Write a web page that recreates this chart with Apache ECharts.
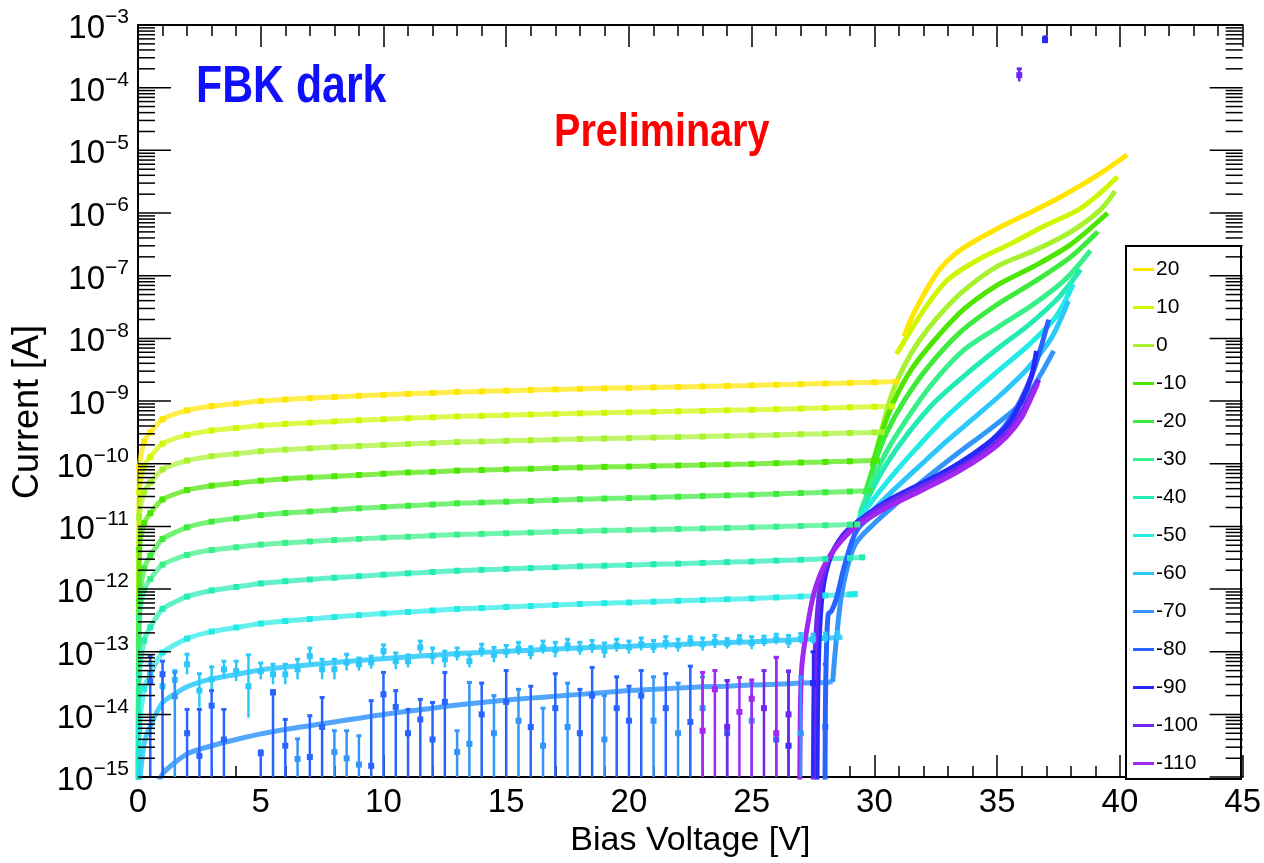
<!DOCTYPE html>
<html><head><meta charset="utf-8">
<script src="https://cdn.jsdelivr.net/npm/echarts@6/dist/echarts.min.js"></script>
<style>html,body{margin:0;padding:0;background:#fff}#c{width:1264px;height:863px}</style>
</head><body><div id="c"></div>
<script>
// ---------- DATA (currents stored as log10 of current in A) ----------
const temps  = ['20','10','0','-10','-20','-30','-40','-50','-60','-70','-80','-90','-100','-110'];
const colors = ['#FFE600','#D2F500','#A6F22E','#4CE600','#3CEB3C','#37F08A','#22EBB4','#22EBE6','#2CC8FA','#3296FA','#2864FF','#2828FA','#6E28F0','#A028F0'];

// bias voltage grid of the plateau fits
const PX = [0.01,0.05,0.25,0.5,1,2,3,4,5,6,7,8,9,10,11,12,13,14,15,16,17,18,19,20,21,22,23,24,25,26,27,28,29,30];
const pl20  = [-16,-10.05,-9.65,-9.50,-9.29,-9.15,-9.08,-9.04,-9.00,-8.975,-8.955,-8.935,-8.917,-8.90,-8.885,-8.87,-8.855,-8.845,-8.835,-8.825,-8.815,-8.805,-8.797,-8.79,-8.782,-8.774,-8.766,-8.758,-8.75,-8.74,-8.73,-8.72,-8.71,-8.70];
const pl10  = [-16,-10.44,-10.04,-9.89,-9.68,-9.54,-9.47,-9.43,-9.39,-9.365,-9.345,-9.325,-9.307,-9.29,-9.275,-9.26,-9.245,-9.235,-9.225,-9.215,-9.205,-9.195,-9.187,-9.18,-9.172,-9.164,-9.156,-9.148,-9.14,-9.13,-9.12,-9.11,-9.10,-9.09];
const pl0   = [-16,-10.85,-10.45,-10.30,-10.09,-9.95,-9.88,-9.84,-9.80,-9.775,-9.755,-9.735,-9.717,-9.70,-9.685,-9.67,-9.655,-9.645,-9.635,-9.625,-9.615,-9.605,-9.597,-9.59,-9.582,-9.574,-9.566,-9.558,-9.55,-9.54,-9.53,-9.52,-9.51,-9.50];
const plm10 = [-16,-11.37,-10.95,-10.79,-10.57,-10.42,-10.35,-10.31,-10.27,-10.24,-10.22,-10.20,-10.18,-10.16,-10.14,-10.13,-10.11,-10.10,-10.09,-10.08,-10.07,-10.06,-10.05,-10.045,-10.036,-10.028,-10.019,-10.011,-10.003,-9.992,-9.982,-9.971,-9.961,-9.95];
const plm20 = [-16,-12.19,-11.67,-11.47,-11.20,-11.015,-10.924,-10.872,-10.82,-10.788,-10.762,-10.736,-10.712,-10.69,-10.671,-10.651,-10.632,-10.619,-10.606,-10.593,-10.58,-10.567,-10.556,-10.547,-10.537,-10.526,-10.516,-10.505,-10.495,-10.482,-10.469,-10.456,-10.443];
const plm30 = [-16,-12.45,-12.01,-11.84,-11.61,-11.455,-11.378,-11.334,-11.29,-11.263,-11.241,-11.219,-11.199,-11.18,-11.164,-11.147,-11.131,-11.12,-11.109,-11.098,-11.087,-11.076,-11.067,-11.059,-11.05,-11.041,-11.033,-11.024,-11.015,-11.004,-10.993,-10.982,-10.971];
const plm40 = [-16,-13.38,-12.82,-12.61,-12.316,-12.12,-12.022,-11.966,-11.91,-11.875,-11.847,-11.819,-11.794,-11.77,-11.749,-11.728,-11.707,-11.693,-11.679,-11.665,-11.651,-11.637,-11.626,-11.616,-11.605,-11.594,-11.582,-11.571,-11.56,-11.546,-11.532,-11.518,-11.504];
const plm50 = [-16,-14.23,-13.59,-13.35,-13.014,-12.79,-12.678,-12.614,-12.55,-12.51,-12.478,-12.446,-12.417,-12.39,-12.366,-12.342,-12.318,-12.302,-12.286,-12.27,-12.254,-12.238,-12.225,-12.214,-12.201,-12.188,-12.176,-12.163,-12.15,-12.134,-12.118,-12.102,-12.086];
const plm60 = [-16,-15.18,-14.46,-14.19,-13.812,-13.56,-13.434,-13.362,-13.29,-13.245,-13.209,-13.173,-13.141,-13.11,-13.083,-13.056,-13.029,-13.011,-12.993,-12.975,-12.957,-12.939,-12.925,-12.912,-12.898,-12.883,-12.869,-12.854,-12.84,-12.822,-12.804,-12.786];
const plm70 = [-17,-16.5,-16.0,-15.5,-14.95,-14.63,-14.5,-14.4,-14.31,-14.24,-14.18,-14.12,-14.06,-14.0,-13.95,-13.9,-13.85,-13.81,-13.77,-13.74,-13.71,-13.68,-13.65,-13.62,-13.6,-13.58,-13.56,-13.55,-13.53,-13.52,-13.5,-13.49];
const plEndX = [30.9,30.7,30.3,30.1,29.8,29.3,29.5,29.2,28.7,28.3];
const plEndY = [-8.69,-9.085,-9.497,-9.95,-10.43,-10.968,-11.494,-12.08,-12.77,-13.48];

// breakdown fits [V, log10 I]
const bd20  = [[31.2,-7.97],[31.6,-7.6],[32.2,-7.17],[32.7,-6.88],[33.5,-6.59],[34.9,-6.27],[36.3,-6.0],[37.6,-5.74],[39.0,-5.42],[40.3,-5.07]];
const bd10  = [[30.9,-8.25],[31.5,-7.86],[32.2,-7.44],[33.0,-7.06],[34.2,-6.75],[35.6,-6.48],[36.9,-6.21],[38.3,-5.95],[39.2,-5.68],[39.9,-5.42]];
const bd0   = [[30.3,-9.45],[30.7,-8.9],[31.2,-8.45],[31.8,-8.05],[32.6,-7.65],[33.6,-7.25],[35.0,-6.85],[36.5,-6.6],[38.0,-6.3],[39.2,-5.95],[39.8,-5.65]];
const bdm10 = [[29.9,-10.05],[30.3,-9.5],[30.8,-9.0],[31.5,-8.5],[32.4,-8.05],[33.6,-7.55],[35.0,-7.15],[36.5,-6.85],[38.0,-6.5],[39.5,-6.0]];
const bdm20 = [[29.6,-10.5],[30.0,-10.0],[30.5,-9.5],[31.2,-9.0],[32.2,-8.45],[33.5,-7.9],[35.0,-7.46],[36.5,-7.1],[38.0,-6.7],[39.1,-6.3]];
const bdm30 = [[29.4,-10.8],[29.9,-10.3],[30.5,-9.8],[31.3,-9.3],[32.3,-8.75],[33.6,-8.2],[35.0,-7.83],[36.5,-7.45],[37.8,-7.05],[38.8,-6.6]];
const bdm40 = [[29.3,-10.95],[29.8,-10.5],[30.5,-10.0],[31.4,-9.5],[32.5,-9.0],[33.8,-8.55],[35.0,-8.17],[36.3,-7.78],[37.5,-7.35],[38.4,-6.9]];
const bdm50 = [[29.2,-11.0],[29.8,-10.65],[30.6,-10.25],[31.6,-9.8],[32.8,-9.3],[34.0,-8.87],[35.1,-8.5],[36.3,-8.1],[37.4,-7.65],[38.1,-7.13]];
const bdm60 = [[29.1,-11.1],[29.8,-10.8],[30.7,-10.45],[31.8,-10.05],[33.0,-9.62],[34.2,-9.22],[35.2,-8.88],[36.2,-8.5],[37.2,-8.0],[37.9,-7.4]];
const bdm70 = [[28.3,-13.48],[28.45,-12.8],[28.7,-12.0],[29.2,-11.3],[30.0,-10.95],[31.0,-10.6],[32.2,-10.2],[33.5,-9.8],[34.8,-9.42],[36.1,-8.98],[37.3,-8.2]];
const bdm80 = [[27.98,-16],[28.0,-14.0],[28.05,-12.9],[28.12,-12.4],[28.25,-12.35],[28.45,-12.15],[28.8,-11.6],[29.3,-11.05],[30.2,-10.75],[31.5,-10.45],[33.0,-10.1],[34.5,-9.72],[35.5,-9.3],[36.4,-8.6],[37.1,-7.7]];
const bdm90 = [[27.65,-16],[27.68,-14.0],[27.75,-12.8],[27.9,-12.0],[28.2,-11.5],[28.7,-11.15],[29.3,-10.93],[30.5,-10.6],[31.9,-10.32],[33.3,-10.03],[34.6,-9.68],[35.4,-9.4],[36.0,-9.0],[36.4,-8.6],[36.6,-8.2]];
const bdm100= [[27.5,-16],[27.53,-14.0],[27.6,-12.9],[27.75,-12.1],[28.0,-11.65],[28.5,-11.28],[29.2,-10.98],[30.5,-10.64],[31.9,-10.37],[33.3,-10.1],[34.6,-9.78],[35.4,-9.5],[36.0,-9.18],[36.5,-8.8],[36.7,-8.66]];
const bdm110= [[26.95,-16],[26.98,-14.0],[27.05,-13.2],[27.27,-12.59],[27.54,-12.06],[27.95,-11.63],[28.5,-11.3],[29.2,-11.02],[30.5,-10.7],[31.9,-10.43],[33.3,-10.15],[34.6,-9.83],[35.4,-9.56],[36.0,-9.26],[36.5,-8.85],[36.65,-8.72]];

// measured points with symmetric error bars: [V, log10 I, log10 half-width]
const pts60 = [[0.5,-13.35,0.15],[1,-13.55,0.2],[1.5,-13.45,0.15],[2,-13.2,0.16],[2.5,-13.62,0.27],[3,-13.44,0.2],[3.5,-13.28,0.13],[4,-13.31,0.16],[4.5,-13.55,0.5],[5,-13.31,0.13],[5.5,-13.36,0.16],[6,-13.36,0.16],[6.5,-13.28,0.16],[7,-13.07,0.13],[7.5,-13.28,0.16],[8,-13.28,0.16],[8.5,-13.17,0.13],[9,-13.2,0.1],[9.5,-13.17,0.1],[10,-12.99,0.1],[10.5,-13.15,0.13],[11,-13.15,0.1],[11.5,-12.93,0.1],[12,-13.07,0.13],[12.5,-13.12,0.13],[13,-13.04,0.1],[13.5,-13.15,0.1],[14,-12.98,0.1],[14.5,-13.05,0.12],[15,-13.0,0.1],[15.5,-12.95,0.1],[16,-13.02,0.1],[16.5,-12.93,0.1],[17,-12.97,0.12],[17.5,-12.9,0.1],[18,-12.95,0.1],[18.5,-12.92,0.1],[19,-12.98,0.12],[19.5,-12.9,0.1],[20,-12.93,0.1],[20.5,-12.88,0.1],[21,-12.92,0.1],[21.5,-12.86,0.1],[22,-12.9,0.1],[22.5,-12.84,0.08],[23,-12.88,0.1],[23.5,-12.84,0.1],[24,-12.87,0.08],[24.5,-12.82,0.08],[25,-12.86,0.1],[25.5,-12.83,0.08],[26,-12.8,0.08],[26.5,-12.84,0.1],[27,-12.79,0.08],[27.5,-12.8,0.08],[28,-12.78,0.08],[28.5,-12.76,0.08]];
// noisy points whose error bar reaches the floor: [V, log10 I, log10 upper end]
const pts70 = [[1.5,-13.71,-13.33],[6.5,-14.71,-14.39],[8,-14.6,-14.26],[8.5,-14.7,-14.26],[9,-14.8,-14.34],[13,-14.6,-14.26],[13.5,-14.47,-13.49],[14.5,-14.3,-13.7],[15.5,-14.1,-13.6],[16.5,-14.5,-13.9],[17.5,-14.2,-13.5],[19,-14.4,-13.7],[21,-14.1,-13.4],[22,-14.3,-13.5],[23,-13.9,-13.4],[25,-14.1,-13.5],[27,-14.3,-13.4]];
const pts80 = [[0.5,-13.47,-13.07],[1,-13.36,-13.15],[2,-14.3,-13.92],[2.5,-14.66,-13.92],[3,-13.86,-13.62],[3.5,-14.4,-13.92],[5,-14.62,-14.58],[5.5,-13.65,-13.62],[6,-14.5,-14.08],[7,-14.68,-14.02],[7.5,-14.2,-13.73],[9.5,-14.82,-13.78],[10,-13.68,-13.33],[10.5,-13.88,-13.62],[11,-14.3,-13.92],[11.5,-14.08,-13.76],[12,-14.4,-13.81],[12.5,-13.8,-13.33],[14,-14.0,-13.5],[15,-13.8,-13.3],[16,-14.2,-13.55],[17,-13.9,-13.35],[18,-14.3,-13.6],[18.5,-13.7,-13.25],[19.5,-13.9,-13.4],[20,-14.1,-13.55],[20.5,-13.7,-13.3],[21.5,-13.9,-13.35],[22.5,-14.12,-13.23],[24,-14.3,-13.46],[26,-14.4,-13.09],[28,-14.2,-13.2]];
const pts90 = [[26.5,-14.5,-13.31],[27.5,-13.5,-13.0]];
const pts100= [[24,-14.2,-13.46],[25.5,-13.9,-13.3],[26.5,-14.0,-13.31]];
const pts110= [[23,-14.26,-13.33],[23.5,-13.6,-13.3],[24.5,-13.96,-13.41],[25,-13.75,-13.45],[26,-14.3,-13.09]];
// isolated high points [V, log10 I, log10 half-width]
const out90  = [[36.95,-3.24,0.05]];
const out100 = [[35.9,-3.80,0.1]];

// axis ticks
const xTicks = [0,5,10,15,20,25,30,35,40,45];
const yDecades = [-15,-14,-13,-12,-11,-10,-9,-8,-7,-6,-5,-4,-3];
const yMinorMult = [2,3,4,5,6,7,8,9];

// ---------- BUILD ----------
const P = v => Math.pow(10, v);
const FONT = "'Liberation Sans',Arial,sans-serif";
const plateaus = [pl20,pl10,pl0,plm10,plm20,plm30,plm40,plm50,plm60,plm70];
const breakdowns = [bd20,bd10,bd0,bdm10,bdm20,bdm30,bdm40,bdm50,bdm60,bdm70,bdm80,bdm90,bdm100,bdm110];

function errRender(params, api){
  const x = api.value(0), y = api.value(1), hi = api.value(2), lo = api.value(3);
  const pt = api.coord([x, y]), ph = api.coord([x, hi]), pb = api.coord([x, lo]);
  const c = api.visual('color');
  return {type:'group', children:[
    {type:'line', shape:{x1:pt[0], y1:ph[1], x2:pt[0], y2:pb[1]}, style:{stroke:c, lineWidth:2.5}},
    {type:'line', shape:{x1:pt[0]-2.5, y1:ph[1], x2:pt[0]+2.5, y2:ph[1]}, style:{stroke:c, lineWidth:3}},
    {type:'rect', shape:{x:pt[0]-3, y:pt[1]-3, width:6, height:6}, style:{fill:c}}
  ]};
}
function tickRender(params, api){
  const v = api.value(1), len = api.value(2);
  const a = api.coord([0, v]), b = api.coord([45, v]);
  return {type:'group', children:[
    {type:'line', shape:{x1:a[0], y1:a[1], x2:a[0]+len, y2:a[1]}, style:{stroke:'#000', lineWidth:1.5}},
    {type:'line', shape:{x1:b[0], y1:b[1], x2:b[0]-len, y2:b[1]}, style:{stroke:'#000', lineWidth:1.5}}
  ]};
}

const series = [];
temps.forEach((t, i) => {
  if (i < plateaus.length) {
    const d = plateaus[i].map((v, j) => [PX[j], P(v)]);
    d.push([plEndX[i], P(plEndY[i])]);
    const sym = i < 8;
    series.push({type:'line', name:t, color:colors[i], data:d, smooth:0.2,
      showSymbol:sym, symbol:'rect', symbolSize:6, itemStyle:{color:colors[i]},
      lineStyle:{width:5, opacity: sym ? 0.7 : 0.85}, z:2, silent:true});
  }
  series.push({type:'line', name:t, color:colors[i], data:breakdowns[i].map(p => [p[0], P(p[1])]),
    smooth:0.3, showSymbol:false, lineStyle:{width:5}, z:2, silent:true});
});
function addErr(name, col, arr, sym){
  series.push({type:'custom', name:name, color:col, renderItem:errRender, clip:true, silent:true, z:3,
    encode:{x:0, y:1},
    data: arr.map(p => sym ? [p[0], P(p[1]), P(p[1]+p[2]), P(p[1]-p[2])] : [p[0], P(p[1]), P(p[2]), P(-15)])});
}
addErr('-60', colors[8], pts60, true);
addErr('-70', colors[9], pts70, false);
addErr('-80', colors[10], pts80, false);
addErr('-90', colors[11], pts90, false);
addErr('-100', colors[12], pts100, false);
addErr('-110', colors[13], pts110, false);
addErr('-90', colors[11], out90, true);
addErr('-100', colors[12], out100, true);

// y major / minor ticks on both sides
const tickData = [];
yDecades.forEach(d => {
  tickData.push([0, P(d), 33]);
  if (d < -3) yMinorMult.forEach(m => tickData.push([0, m * P(d), 17]));
});
series.push({type:'custom', renderItem:tickRender, data:tickData, encode:{x:0, y:1}, clip:false, silent:true, z:6});

const xAxisBase = {type:'value', min:0, max:45, interval:5,
  axisLine:{show:true, onZero:false, lineStyle:{color:'#000', width:2}},
  axisTick:{show:true, inside:true, length:22, lineStyle:{color:'#000', width:1.5}},
  minorTick:{show:true, splitNumber:5, length:11, lineStyle:{color:'#000', width:1.5}},
  splitLine:{show:false}, minorSplitLine:{show:false}};

const option = {
  animation:false,
  backgroundColor:'#fff',
  grid:{left:138, top:25, width:1106, height:753, containLabel:false},
  xAxis:[
    Object.assign({}, xAxisBase, {position:'bottom', name:'Bias Voltage [V]', nameLocation:'middle', nameGap:46,
      nameTextStyle:{fontFamily:FONT, fontSize:34, color:'#000'},
      axisLabel:{show:true, margin:9, color:'#000', fontFamily:FONT, fontSize:33,
        formatter: v => xTicks.indexOf(v) >= 0 ? String(v) : ''}}),
    Object.assign({}, xAxisBase, {position:'top', axisLabel:{show:false}})
  ],
  yAxis:[
    {type:'log', logBase:10, min:1e-15, max:1e-3, interval:1, position:'left',
      name:'Current [A]', nameLocation:'middle', nameGap:77, nameRotate:90,
      nameTextStyle:{fontFamily:FONT, fontSize:36, color:'#000', padding:[0,0,0,-22]},
      axisLine:{show:true, lineStyle:{color:'#000', width:2}},
      axisTick:{show:false}, splitLine:{show:false},
      axisLabel:{show:true, margin:9, color:'#000',
        formatter: v => { const e = Math.round(Math.log10(v)); return '{b|10}{s|\u2212' + (-e) + '}'; },
        rich:{b:{fontFamily:FONT, fontSize:33, lineHeight:36, color:'#000', padding:[8,0,0,0]},
              s:{fontFamily:FONT, fontSize:21, verticalAlign:'top', lineHeight:36, color:'#000'}}}},
    {type:'log', logBase:10, min:1e-15, max:1e-3, position:'right',
      axisLine:{show:true, lineStyle:{color:'#000', width:2}}, axisTick:{show:false},
      axisLabel:{show:false}, splitLine:{show:false}}
  ],
  legend:{show:true, orient:'vertical', left:1128, top:254, itemWidth:21, itemHeight:3, itemGap:17,
    selectedMode:false, icon:'rect',
    textStyle:{fontFamily:FONT, fontSize:21, color:'#000', padding:[0,0,0,-3]},
    data:temps.map(t => ({name:t, icon:'rect'}))},
  graphic:[
    {type:'rect', left:1125, top:245, z:3, shape:{width:115, height:533}, style:{fill:'#fff', stroke:'#000', lineWidth:2}},
    {type:'text', left:196, top:62, z:5, scaleX:0.84, style:{text:'FBK dark', fill:'#1010FF', font:"bold 51px " + FONT}},
    {type:'text', left:554, top:110, z:5, scaleX:0.86, style:{text:'Preliminary', fill:'#FF0000', font:"bold 46px " + FONT}}
  ],
  series:series
};
const chart = echarts.init(document.getElementById('c'));
chart.setOption(option);
</script></body></html>
